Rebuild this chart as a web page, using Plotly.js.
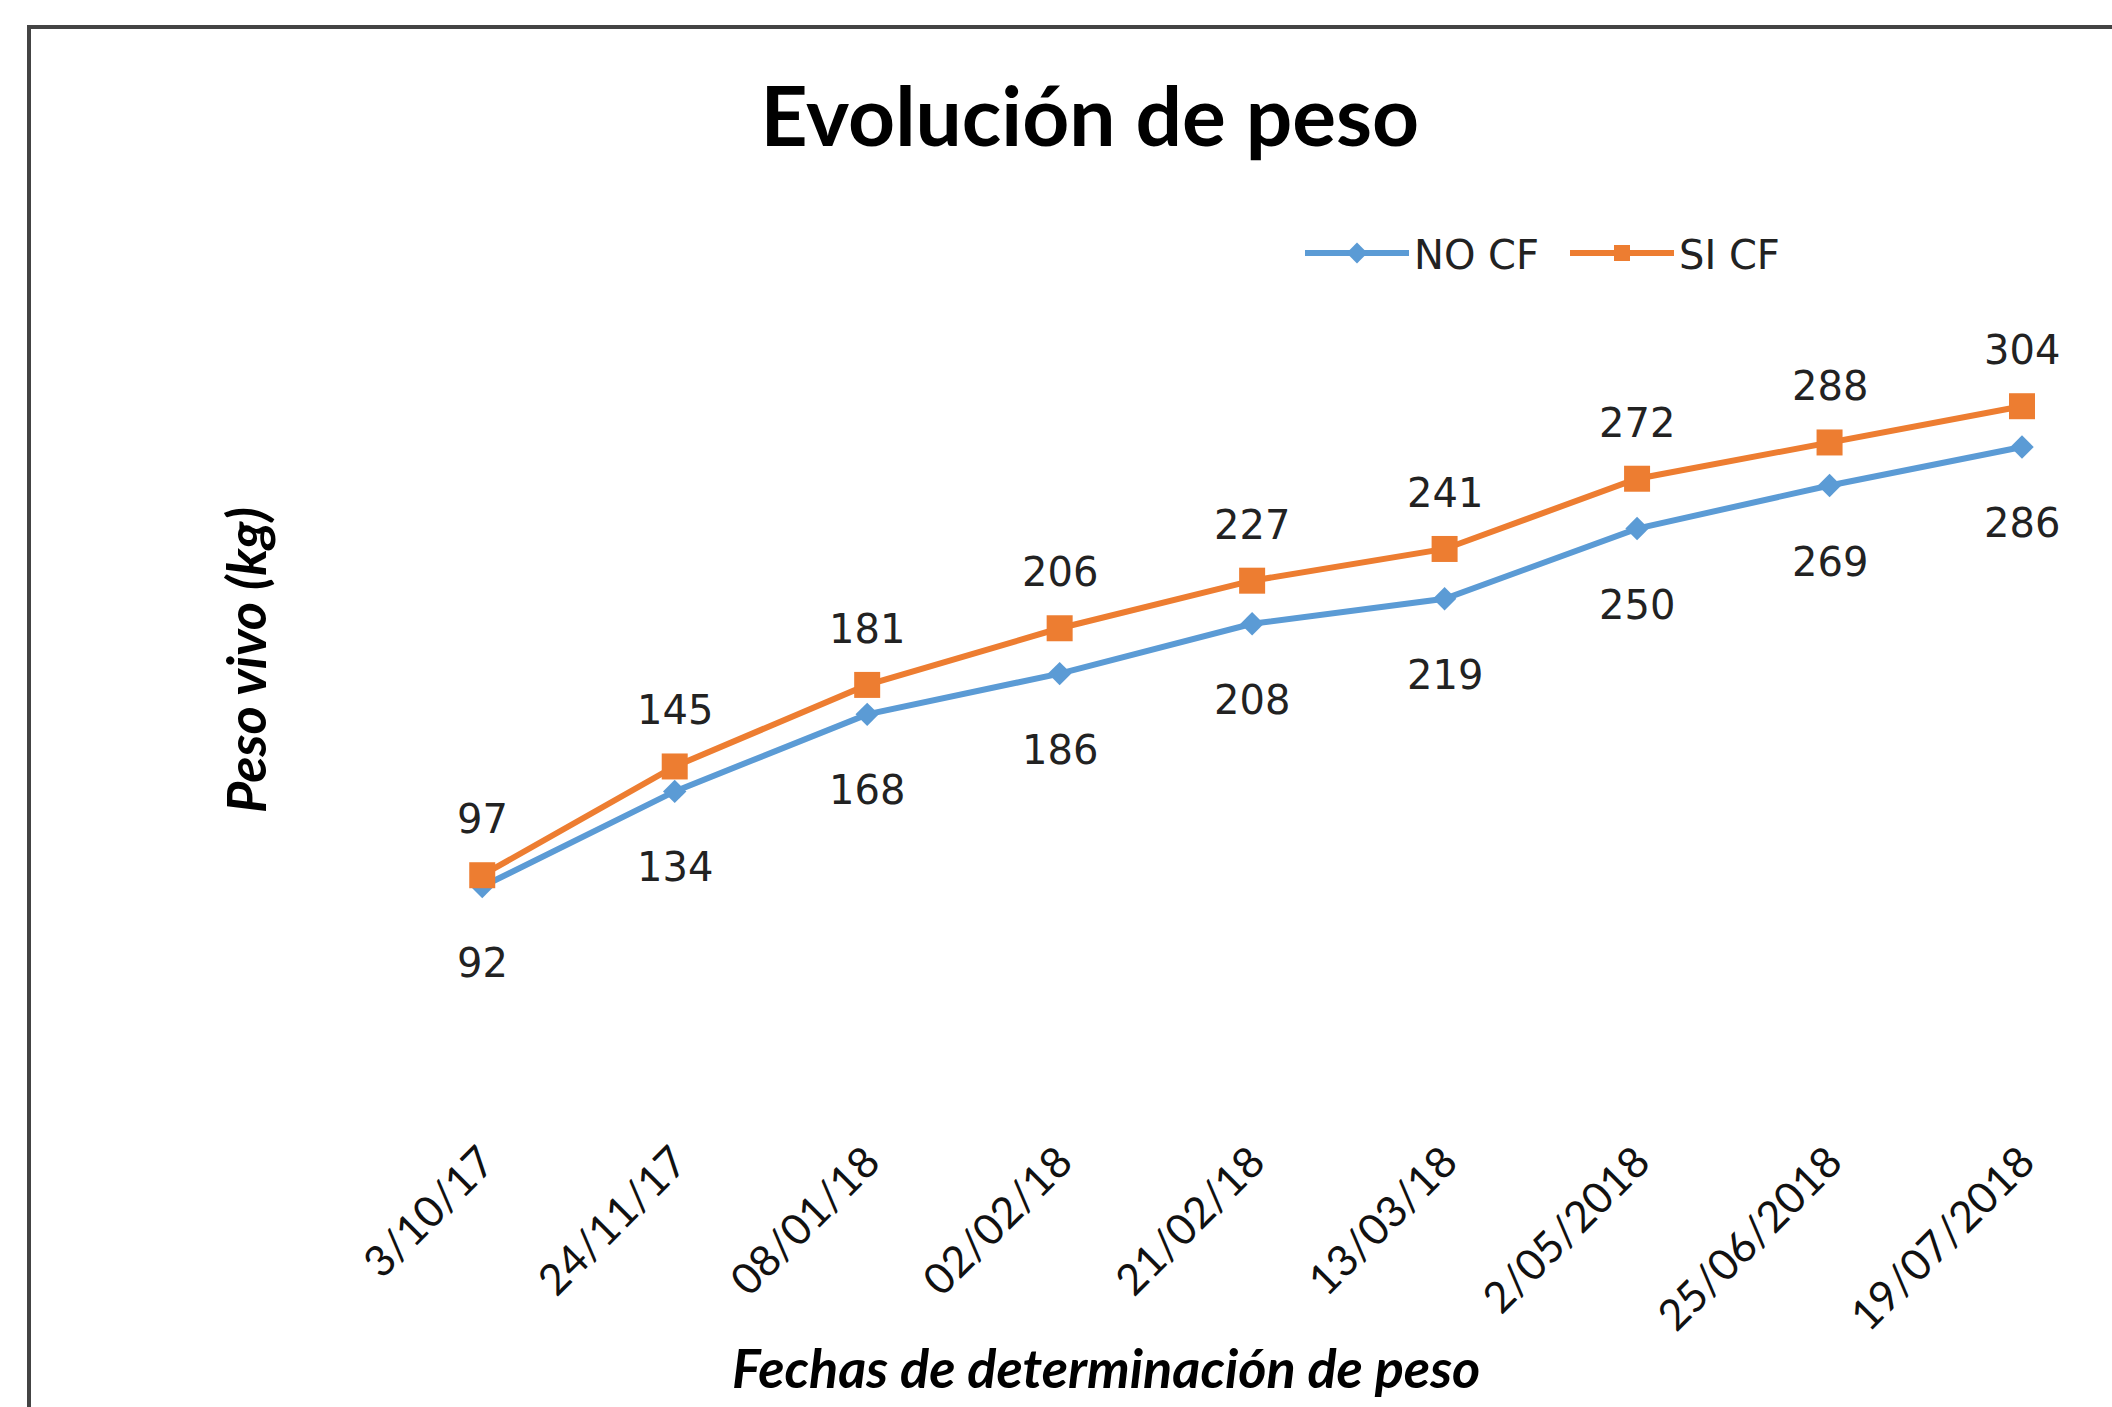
<!DOCTYPE html>
<html>
<head>
<meta charset="utf-8">
<script src="https://cdn.plot.ly/plotly-3.0.1.min.js"></script>
<style>
  html, body { margin: 0; padding: 0; background: #ffffff; overflow: hidden; }
  #chart { width: 2112px; height: 1407px; }
</style>
</head>
<body>
<div id="chart"></div>
<script>
// ---- Data ----
const fechas = ["3/10/17", "24/11/17", "08/01/18", "02/02/18", "21/02/18", "13/03/18", "2/05/2018", "25/06/2018", "19/07/2018"];
const noCF = [92, 134, 168, 186, 208, 219, 250, 269, 286];
const siCF = [97, 145, 181, 206, 227, 241, 272, 288, 304];
const seriesNames = ["NO CF", "SI CF"];
const chartTitle = "Evolución de peso";
const xTitle = "Fechas de determinación de peso";
const yTitle = "Peso vivo (kg)";

const BLUE = "#5B9BD5";
const ORANGE = "#ED7D31";
const idx = fechas.map((_, i) => i);

const traces = [
  {
    x: idx, y: noCF, name: seriesNames[0], type: "scatter", mode: "lines+markers",
    line: { color: BLUE, width: 6 },
    marker: { color: BLUE, symbol: "diamond", size: 18 }
  },
  {
    x: idx, y: siCF, name: seriesNames[1], type: "scatter", mode: "lines+markers",
    line: { color: ORANGE, width: 6 },
    marker: { color: ORANGE, symbol: "square", size: 26 }
  }
];

const labelFont = { family: "DejaVu Sans", size: 40, color: "#222222" };
const titleFont = { family: "Lato", size: 54, color: "#000000", weight: "bold", style: "italic" };
const annotations = [];
noCF.forEach((v, i) => annotations.push({
  x: i, y: v, xref: "x", yref: "y", text: String(v), showarrow: false,
  yshift: -76, font: labelFont
}));
siCF.forEach((v, i) => annotations.push({
  x: i, y: v, xref: "x", yref: "y", text: String(v), showarrow: false,
  yshift: 56, font: labelFont
}));
// axis titles
annotations.push({
  text: xTitle, xref: "paper", yref: "paper",
  x: (1106 - 386) / 1726, y: (1095 - 1367) / 793,
  xanchor: "center", yanchor: "middle", showarrow: false, font: titleFont
});
annotations.push({
  text: yTitle, xref: "paper", yref: "paper", textangle: -90,
  x: (245 - 386) / 1726, y: (1095 - 660) / 793,
  xanchor: "center", yanchor: "middle", showarrow: false, font: titleFont
});

const layout = {
  width: 2112, height: 1407,
  paper_bgcolor: "#ffffff", plot_bgcolor: "#ffffff",
  margin: { l: 386, r: 0, t: 302, b: 312, pad: 0 },
  title: {
    text: chartTitle,
    font: { family: "Lato", size: 82, color: "#000000", weight: "bold" },
    xref: "container", x: 0.516, xanchor: "center",
    yref: "container", y: 1 - 117 / 1407, yanchor: "middle"
  },
  showlegend: true,
  legend: {
    orientation: "h", xref: "container", yref: "container",
    x: 1300 / 2112, xanchor: "left", y: 1 - 253 / 1407, yanchor: "middle",
    font: { family: "DejaVu Sans", size: 40, color: "#222222" },
    itemwidth: 104, entrywidth: 146, bgcolor: "rgba(0,0,0,0)"
  },
  xaxis: {
    type: "linear",
    range: [-0.5, 8.4675],
    tickmode: "array", tickvals: idx, ticktext: fechas,
    tickangle: -45,
    tickfont: { family: "Lato", size: 43, color: "#111111" },
    showgrid: false, zeroline: false, showline: false, ticks: "",
    ticklabelstandoff: 32,
    automargin: false, fixedrange: true
  },
  yaxis: {
    range: [0, 350],
    showgrid: false, zeroline: false, showline: false, showticklabels: false, ticks: "",
    automargin: false, fixedrange: true
  },
  annotations: annotations,
  shapes: [{
    type: "rect", xref: "paper", yref: "paper",
    x0: (29 - 386) / 1726, x1: 1.05,
    y0: -0.5, y1: (1095 - 27) / 793,
    line: { color: "#444444", width: 4 }, fillcolor: "rgba(0,0,0,0)", layer: "above"
  }]
};

Plotly.newPlot("chart", traces, layout, { displayModeBar: false, staticPlot: true });
</script>
</body>
</html>
